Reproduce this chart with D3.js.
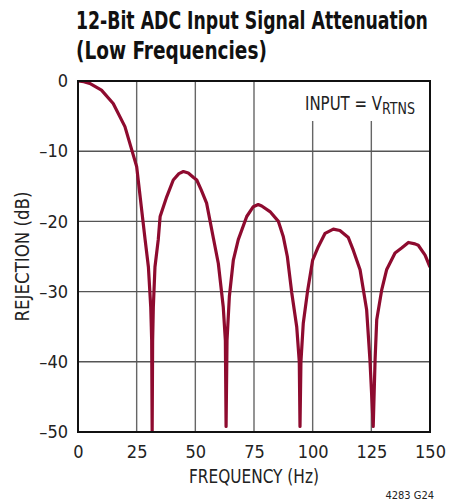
<!DOCTYPE html>
<html>
<head>
<meta charset="utf-8">
<script src="https://cdn.jsdelivr.net/npm/d3@7"></script>
<style>
  html, body { margin: 0; padding: 0; background: #fff; }
  svg { display: block; }
  .narrow { font-family: "Liberation Sans Narrow", "DejaVu Sans Condensed", "Roboto Condensed", sans-serif; }
</style>
</head>
<body>
<svg id="chart" width="459" height="502"></svg>
<script>
// ---- data ----
const frequencyHz = [0, 2.5, 5, 10, 15, 20, 25, 28.6, 30.0, 31.0, 31.4, 31.6, 31.8, 32.1, 32.8, 34.2, 35.0, 37.8, 40.6, 43.0, 44.9, 47.0, 49.1, 50.6, 52.5, 54.8, 57.7, 59.8, 61.9, 62.8, 63.1, 63.5, 64.5, 66.2, 68.3, 71.9, 74.7, 76.8, 78.3, 81.8, 85.4, 87.5, 89.2, 91.1, 93.2, 94.3, 94.6, 95.0, 96.0, 97.8, 100.0, 102.4, 105.3, 108.8, 111.6, 115.2, 117.3, 120.2, 123.0, 124.4, 125.8, 126.6, 127.3, 129.4, 131.5, 135.1, 137.9, 140.8, 143.6, 145.0, 147.9, 150];
const rejectionDb = [0, -0.1, -0.35, -1.3, -3.2, -6.5, -12.2, -22.6, -26.5, -32.2, -37, -50, -37, -32.2, -26.5, -22.6, -19.3, -16.5, -14.1, -13.2, -12.9, -13.1, -13.7, -14.1, -15.5, -17.4, -22.4, -26.0, -32.2, -37, -49.2, -37, -30.7, -25.5, -22.6, -19.3, -17.9, -17.6, -17.8, -18.6, -20.0, -22.2, -25.0, -30.2, -35.0, -40.0, -49.2, -40.0, -34.5, -30.0, -25.5, -23.6, -21.7, -21.1, -21.3, -22.3, -24.1, -26.9, -32.6, -39.7, -49.2, -39.7, -34.0, -29.8, -26.9, -24.5, -23.8, -23.0, -23.2, -23.4, -24.8, -26.5];
const xTicks = [0, 25, 50, 75, 100, 125, 150];
const yTicks = [0, -10, -20, -30, -40, -50];
const titleLines = ["12-Bit ADC Input Signal Attenuation", "(Low Frequencies)"];

const points = frequencyHz.map((f, i) => ({ f, r: rejectionDb[i] }));

// horizontally squeeze a text so it spans `target` px, anchored at (ax, ay)
function fitWidth(sel, target, ax, ay) {
  const w = sel.node().getComputedTextLength();
  const s = Math.min(1, target / w);
  sel.attr("transform", `translate(${ax},${ay}) scale(${s},1) translate(${-ax},${-ay})`);
}

// ---- layout ----
const svg = d3.select("#chart");
const margin = { left: 78, top: 81 };
const W = 352, H = 351;
const x = d3.scaleLinear().domain([0, 150]).range([0, W]);
const y = d3.scaleLinear().domain([-50, 0]).range([H, 0]);

// Title
const title = svg.append("g").attr("class", "narrow").attr("font-weight", "bold").attr("font-size", 25).attr("fill", "#111");
const t1 = title.append("text").attr("x", 76).attr("y", 29).text(titleLines[0]);
fitWidth(t1, 352, 76, 29);
const t2 = title.append("text").attr("x", 76).attr("y", 59).text(titleLines[1]);
fitWidth(t2, 191, 76, 59);

const g = svg.append("g").attr("transform", `translate(${margin.left},${margin.top})`);

// Grid
g.append("g").selectAll("line").data(xTicks.filter(d => d > 0 && d < 150)).join("line")
  .attr("x1", d => x(d)).attr("x2", d => x(d)).attr("y1", 0).attr("y2", H)
  .attr("stroke", "#666").attr("stroke-width", 1.4);
g.append("g").selectAll("line").data(yTicks.filter(d => d < 0 && d > -50)).join("line")
  .attr("y1", d => y(d)).attr("y2", d => y(d)).attr("x1", 0).attr("x2", W)
  .attr("stroke", "#555").attr("stroke-width", 1.4);

// Label box (white, breaks gridlines)
g.append("rect").attr("x", 222).attr("y", 1).attr("width", 128).attr("height", 39).attr("fill", "#fff");
const lbl = g.append("text").attr("class", "narrow").attr("x", 227).attr("y", 29).attr("font-size", 19).attr("fill", "#222");
lbl.append("tspan").text("INPUT = V");
lbl.append("tspan").attr("font-size", 16).attr("dy", 4).text("RTNS");
fitWidth(lbl, 110, 227, 29);

// Curve
g.append("defs").append("clipPath").attr("id", "clip").append("rect").attr("width", W).attr("height", H);
g.append("path").datum(points)
  .attr("clip-path", "url(#clip)")
  .attr("fill", "none").attr("stroke", "#8e0b2f").attr("stroke-width", 3.2)
  .attr("stroke-linejoin", "round")
  .attr("d", d3.line().x(d => x(d.f)).y(d => y(d.r)));

// Frame
g.append("rect").attr("width", W).attr("height", H).attr("fill", "none").attr("stroke", "#111").attr("stroke-width", 2);

// Axes (labels only)
const xAxis = g.append("g").attr("transform", `translate(0,${H})`)
  .call(d3.axisBottom(x).tickValues(xTicks).tickSize(0).tickPadding(13).tickFormat(d3.format("d")));
const yAxis = g.append("g")
  .call(d3.axisLeft(y).tickValues(yTicks).tickSize(0).tickPadding(10).tickFormat(d => d === 0 ? "0" : "–" + Math.abs(d)));
[xAxis, yAxis].forEach(a => {
  a.select(".domain").remove();
  a.selectAll("text").attr("class", "narrow").attr("font-size", 18).attr("fill", "#222");
});

// Axis titles
const xt = svg.append("text").attr("class", "narrow").attr("x", margin.left + x(75)).attr("y", 483)
  .attr("text-anchor", "middle").attr("font-size", 19).attr("fill", "#222").text("FREQUENCY (Hz)");
fitWidth(xt, 130, margin.left + x(75), 483);
const yt = svg.append("text").attr("class", "narrow").attr("x", -(margin.top + H / 2)).attr("y", 29)
  .attr("text-anchor", "middle").attr("font-size", 19).attr("fill", "#222").text("REJECTION (dB)");
{
  const w = yt.node().getComputedTextLength();
  const s = Math.min(1, 130 / w);
  yt.attr("transform", `rotate(-90) translate(${-(margin.top + H / 2)},0) scale(${s},1) translate(${margin.top + H / 2},0)`);
}

// Figure code
svg.append("text").attr("class", "narrow").attr("x", 434).attr("y", 499).attr("text-anchor", "end")
  .attr("font-size", 11).attr("fill", "#222").text("4283 G24");
</script>
</body>
</html>
